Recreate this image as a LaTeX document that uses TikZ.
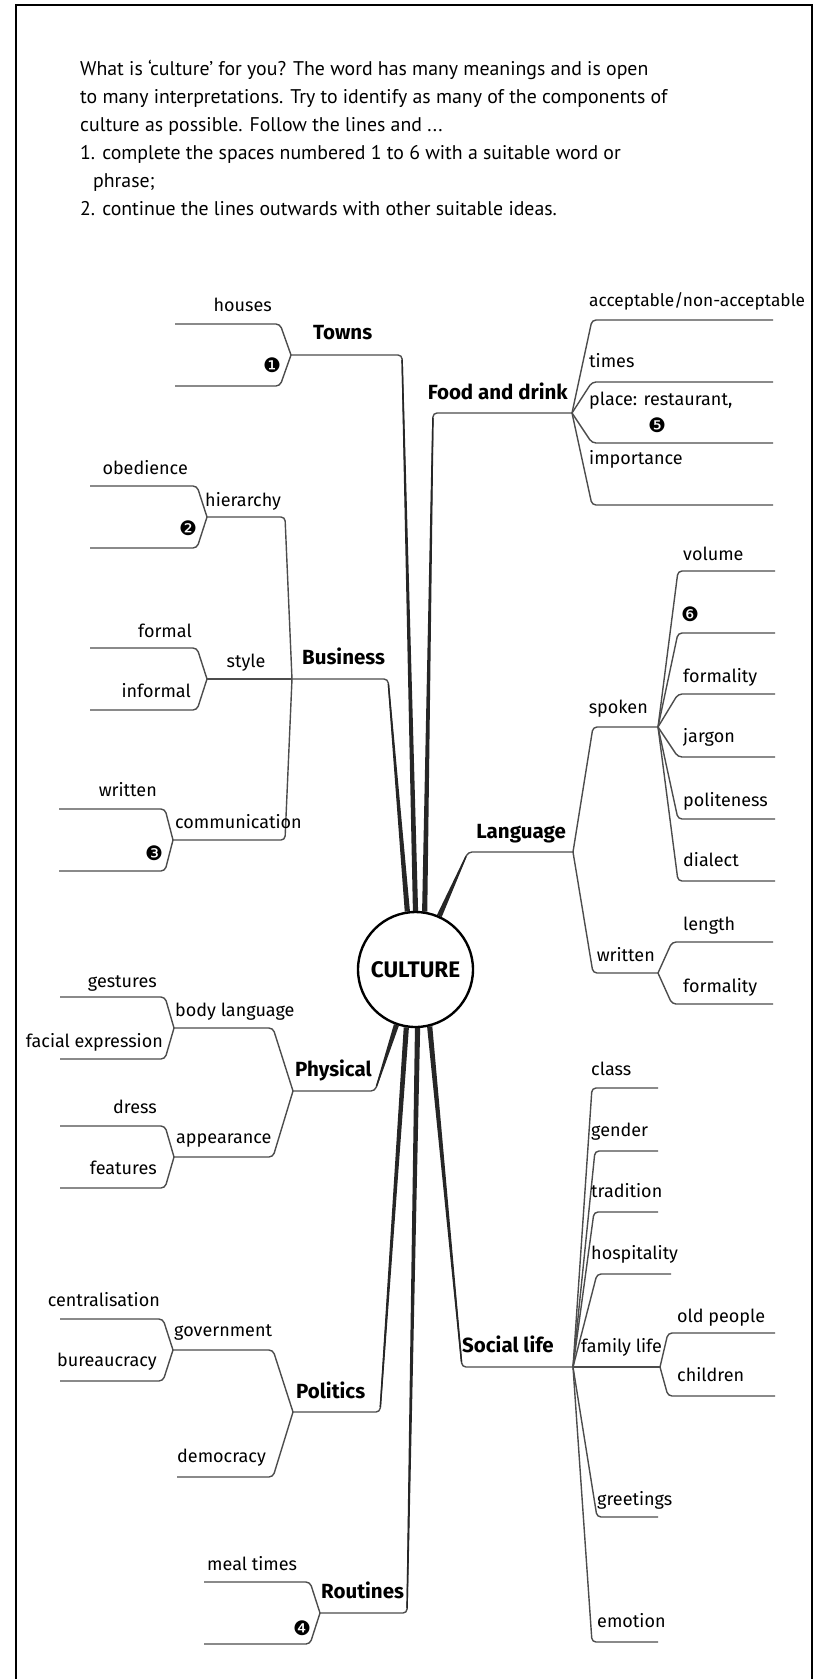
\documentclass[tikz,border=0pt]{standalone}
\usepackage{fontspec}
\setmainfont{Fira Sans}
\newfontfamily\taskfont{PT Sans}
\newfontfamily\dingfont{DejaVu Sans}
\usetikzlibrary{calc,backgrounds}

\tikzset{
  branch/.style={draw=black!70, line width=1.4pt, rounded corners=4pt},
  leaf/.style={inner sep=0pt, text height=13pt, text depth=4pt, font=\fontsize{18}{20}\selectfont},
  topic/.style={inner sep=0pt, text height=14pt, text depth=4pt, font=\fontsize{20.5}{22}\selectfont\bfseries},
  blank/.style={inner sep=0pt, font=\dingfont\fontsize{20}{20}\selectfont},
  hubnode/.style={circle, draw, line width=2.4pt, fill=white, minimum size=115pt, inner sep=0pt,
    font=\fontsize{22.5}{22}\selectfont\bfseries},
}

% tapered main line: thick at the hub, thin at the knee
\newcommand\trunk[2]{%
  \coordinate (tk) at ($(#2)!5pt!(#1)$);
  \fill[black!85] ($(#1)!2.6pt!90:(tk)$) -- ($(tk)!0.7pt!-90:(#1)$)
    -- ($(tk)!0.7pt!90:(#1)$) -- ($(#1)!2.6pt!-90:(tk)$) -- cycle;}

\begin{document}
\begin{tikzpicture}[x=1pt, y=-1pt]
  \useasboundingbox (0,0) rectangle (820,1679);
  \draw[line width=1.6pt] (16,1679) -- (16,5) -- (812,5) -- (812,1679);

  % Task
  \node[anchor=north west, align=left, inner sep=0pt, font=\taskfont\fontsize{19.8}{28}\selectfont] (task) at (80,60)
    {What is ‘culture’ for you? The word has many meanings and is open\\
     to many interpretations. Try to identify as many of the components of\\
     culture as possible. Follow the lines and ...\\
     1. complete the spaces numbered 1 to 6 with a suitable word or\\
     \hspace*{13pt}phrase;\\
     2. continue the lines outwards with other suitable ideas.};

  % Centre
  \node[hubnode] (hub) at (415.5,969.5) {CULTURE};

  % Main branches: vertex and knee
  \coordinate (towns) at (291,355);     \coordinate (towns-k) at (402,355);
  \coordinate (food) at (572,413);      \coordinate (food-k) at (433,413);
  \coordinate (business) at (292,679);  \coordinate (business-k) at (388,679);
  \coordinate (language) at (573,852);  \coordinate (language-k) at (468,852);
  \coordinate (physical) at (293,1091); \coordinate (physical-k) at (375,1091);
  \coordinate (social) at (573,1367);   \coordinate (social-k) at (462,1367);
  \coordinate (politics) at (293,1412); \coordinate (politics-k) at (380,1412);
  \coordinate (routines) at (320,1613); \coordinate (routines-k) at (407,1613);

  \begin{pgfonlayer}{background}
    \foreach \b/\a in {towns/90, food/81, business/98, language/66,
                       physical/251, social/284, politics/261, routines/272} {
      \draw[branch] (\b) -- (\b-k) -- (hub.\a);
      \trunk{hub.\a}{\b-k}
    }
  \end{pgfonlayer}

  % Second level vertices
  \coordinate (hierarchy) at (207,517);   \coordinate (style) at (207,679);
  \coordinate (communication) at (173,840);
  \coordinate (bodylang) at (174,1028);   \coordinate (appearance) at (174,1157);
  \coordinate (government) at (173,1350);
  \coordinate (spoken) at (658,727);      \coordinate (written) at (658,973);
  \coordinate (family) at (660,1367);

  % Left side brackets
  \draw[branch] (business) -- (285,517) -- (hierarchy);
  \draw[branch] (business) -- (285,840) -- (communication);
  \draw[branch] (style) -- (business);
  \draw[branch] (physical) -- (273,1028) -- (bodylang);
  \draw[branch] (physical) -- (273,1157) -- (appearance);
  \draw[branch] (politics) -- (273,1350) -- (government);
  \draw[branch] (politics) -- (273,1477) -- (177,1477);
  \foreach \v/\dx/\len in {towns/11/105, hierarchy/10/107, style/10/107, communication/8/106,
                           bodylang/9/105, appearance/9/105, government/10/103, routines/10/106} {
    \draw[branch] (\v) -- ++(-\dx,-31) -- ++(-\len,0);
    \draw[branch] (\v) -- ++(-\dx,31) -- ++(-\len,0);
  }

  % Right side fans
  \foreach \y in {320,382,443,505} \draw[branch] (food) -- (592,\y) -- (773,\y);
  \draw[branch] (language) -- (593,727) -- (spoken);
  \draw[branch] (language) -- (593,973) -- (written);
  \foreach \y in {571,633,694,757,819,881} \draw[branch] (spoken) -- (678,\y) -- (775,\y);
  \foreach \y in {942,1004} \draw[branch] (written) -- (672,\y) -- (773,\y);
  \foreach \x/\y/\e in {592/1088/658, 595/1151/658, 594/1212/658, 597/1274/671,
                        597/1517/658, 592/1642/658}
    \draw[branch] (social) -- (\x,\y) -- (\e,\y);
  \draw[branch] (social) -- (family);
  \foreach \y in {1333,1396} \draw[branch] (family) -- (668,\y) -- (775,\y);

  % Towns
  \node[leaf, anchor=east] (houses) at (272,307) {houses};
  \node[blank] (blank1) at (272,365) {❶};
  \node[topic, anchor=west] (towns-l) at (313,334) {Towns};
  % Business
  \node[leaf, anchor=east] (obedience) at (188,470) {obedience};
  \node[blank] (blank2) at (188,528) {❷};
  \node[leaf, anchor=west] (hierarchy-l) at (205,502) {hierarchy};
  \node[leaf, anchor=east] (formal) at (192,633) {formal};
  \node[leaf, anchor=east] (informal) at (191,693) {informal};
  \node[leaf] (style-l) at (246,663) {style};
  \node[topic, anchor=west] (business-l) at (302,659) {Business};
  \node[leaf, anchor=east] (written-b) at (157,792) {written};
  \node[blank] (blank3) at (154,853) {❸};
  \node[leaf, anchor=west] (communication-l) at (175,824) {communication};
  % Physical
  \node[leaf, anchor=east] (gestures) at (157,983) {gestures};
  \node[leaf, anchor=east] (facial) at (163,1043) {facial expression};
  \node[leaf, anchor=west] (bodylang-l) at (175,1012) {body language};
  \node[topic, anchor=west] (physical-l) at (295,1071) {Physical};
  \node[leaf, anchor=east] (dress) at (157,1109) {dress};
  \node[leaf, anchor=east] (features) at (157,1170) {features};
  \node[leaf, anchor=west] (appearance-l) at (176,1139) {appearance};
  % Politics
  \node[leaf, anchor=east] (centralisation) at (160,1302) {centralisation};
  \node[leaf, anchor=east] (bureaucracy) at (157,1362) {bureaucracy};
  \node[leaf, anchor=west] (government-l) at (174,1332) {government};
  \node[topic, anchor=west] (politics-l) at (296,1393) {Politics};
  \node[leaf, anchor=west] (democracy) at (177,1458) {democracy};
  % Routines
  \node[leaf, anchor=west] (mealtimes) at (207,1566) {meal times};
  \node[blank] (blank4) at (302,1628) {❹};
  \node[topic, anchor=west] (routines-l) at (321,1593) {Routines};

  % Food and drink
  \node[topic, anchor=east] (food-l) at (568,394) {Food and drink};
  \node[leaf, anchor=west, font=\fontsize{17.3}{20}\selectfont] (acceptable) at (589,302) {acceptable/non-acceptable};
  \node[leaf, anchor=west] (times) at (589,363) {times};
  \node[leaf, anchor=west] (place) at (589,401) {place: restaurant,};
  \node[blank] (blank5) at (657,425) {❺};
  \node[leaf, anchor=west] (importance) at (589,460) {importance};
  % Language
  \node[topic, anchor=east] (language-l) at (566,833) {Language};
  \node[leaf, anchor=east] (spoken-l) at (648,709) {spoken};
  \node[leaf, anchor=west] (volume) at (683,556) {volume};
  \node[blank] (blank6) at (690,614) {❻};
  \node[leaf, anchor=west] (formality-s) at (683,678) {formality};
  \node[leaf, anchor=west] (jargon) at (683,738) {jargon};
  \node[leaf, anchor=west] (politeness) at (683,802) {politeness};
  \node[leaf, anchor=west] (dialect) at (683,862) {dialect};
  \node[leaf, anchor=east] (written-l) at (655,957) {written};
  \node[leaf, anchor=west] (length) at (683,926) {length};
  \node[leaf, anchor=west] (formality-w) at (683,988) {formality};
  % Social life
  \node[topic, anchor=west] (social-l) at (462,1347) {Social life};
  \node[leaf, anchor=west] (class) at (591,1071) {class};
  \node[leaf, anchor=west] (gender) at (591,1132) {gender};
  \node[leaf, anchor=west] (tradition) at (591,1193) {tradition};
  \node[leaf, anchor=west] (hospitality) at (591,1255) {hospitality};
  \node[leaf, anchor=east] (family-l) at (662,1348) {family life};
  \node[leaf, anchor=west] (oldpeople) at (677,1318) {old people};
  \node[leaf, anchor=west] (children) at (677,1377) {children};
  \node[leaf, anchor=west] (greetings) at (597,1501) {greetings};
  \node[leaf, anchor=west] (emotion) at (597,1623) {emotion};
\end{tikzpicture}
\end{document}
